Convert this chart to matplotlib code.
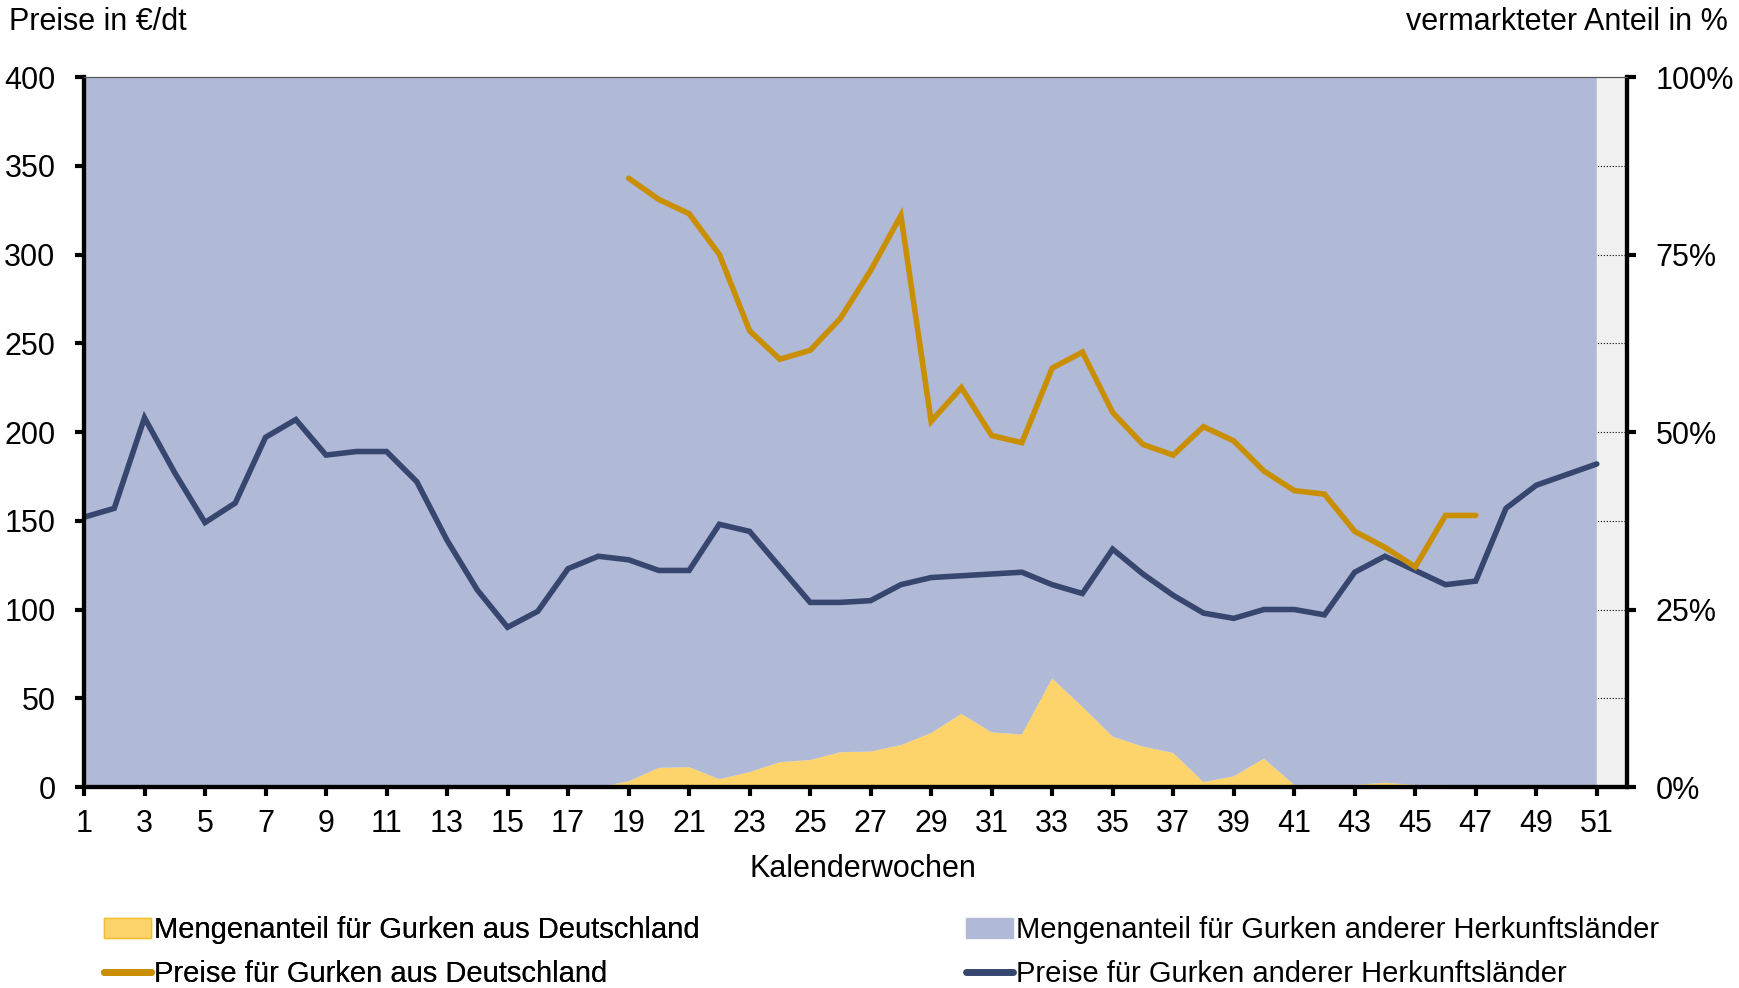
import matplotlib
matplotlib.use("Agg")
import matplotlib.pyplot as plt
from matplotlib.patches import Patch
from matplotlib.lines import Line2D
import numpy as np

plt.rcParams['font.family'] = ['Liberation Sans', 'DejaVu Sans']

# Kalenderwochen 1..51
weeks = list(range(1, 52))

# Preise fuer Gurken anderer Herkunftslaender (EUR/dt)
price_other = [152, 157, 208, 177, 149, 160, 197, 207, 187, 189,
               189, 172, 139, 111, 90, 99, 123, 130, 128, 122,
               122, 148, 144, 124, 104, 104, 105, 114, 118, 119,
               120, 121, 114, 109, 134, 120, 108, 98, 95, 100,
               100, 97, 121, 130, 122, 114, 116, 157, 170, 176,
               182]

# Preise fuer Gurken aus Deutschland (KW 19..47)
weeks_de = list(range(19, 48))
price_de = [343, 331, 323, 300, 257, 241, 246, 264, 291, 322,
            206, 225, 198, 194, 236, 245, 211, 193, 187, 203,
            195, 178, 167, 165, 144, 135, 124, 153, 153]

# Mengenanteil Deutschland in % (KW 1..51)
share_de = [0] * 17 + [0, 0.8, 2.7, 2.8, 1.1, 2.1, 3.5, 3.8, 4.9,
                       5.0, 5.9, 7.6, 10.3, 7.7, 7.4, 15.3, 11.3, 7.1, 5.7,
                       4.8, 0.7, 1.5, 4.0, 0.3, 0.3, 0.3, 0.6, 0.3, 0.3,
                       0.2, 0, 0, 0, 0]
share_other = [100 - s for s in share_de]

c_yellow = '#fdd36b'
c_blue_area = '#b0b9d6'
c_orange = '#c98f00'
c_navy = '#36466e'

fs = 22

fig = plt.figure(figsize=(17.39, 9.88), dpi=100)
ax = fig.add_axes([84 / 1739, 201 / 988, 1543 / 1739, 710 / 988])
ax2 = ax.twinx()

# areas on the percent axis, behind the price lines
ax2.patch.set_visible(True)
ax2.set_facecolor('#f0f0f0')
ax2.stackplot(weeks, share_de, share_other, colors=[c_yellow, c_blue_area],
              linewidth=0, zorder=2)
ax2.set_ylim(0, 100)
ax2.set_yticks([0, 25, 50, 75, 100])
ax2.set_yticklabels(['0%', '25%', '50%', '75%', '100%'])
ax2.set_yticks(np.arange(0, 101, 12.5), minor=True)
ax2.grid(True, axis='y', which='both', linestyle=':', color='black', linewidth=0.8)
ax2.set_axisbelow(True)
ax2.tick_params(axis='y', which='major', direction='out', length=6.5, width=3,
                labelsize=fs, pad=14)
ax2.tick_params(axis='y', which='minor', length=0)

ax.set_zorder(ax2.get_zorder() + 1)
ax.patch.set_visible(False)

ax.plot(weeks, price_other, color=c_navy, linewidth=4, solid_capstyle='round',
        solid_joinstyle='miter')
ax.plot(weeks_de, price_de, color=c_orange, linewidth=4, solid_capstyle='round',
        solid_joinstyle='miter')

ax.set_xlim(1, 52)
ax.set_ylim(0, 400)
ax.set_yticks(range(0, 401, 50))
ax.set_xticks(range(1, 52, 2))
ax.tick_params(axis='both', direction='out', length=6.5, width=3, labelsize=fs)
ax.tick_params(axis='y', pad=14)
ax.tick_params(axis='x', pad=9)
ax.set_xlabel('Kalenderwochen', fontsize=fs)
ax.xaxis.set_label_coords(0.505, -0.095)

for a in (ax, ax2):
    for side in ('left', 'right', 'bottom'):
        a.spines[side].set_linewidth(3)
        a.spines[side].set_color('black')
    a.spines['top'].set_linewidth(0.8)
    a.spines['top'].set_color('#555555')

fig.text(9 / 1739, 1 - 22 / 988, 'Preise in €/dt', fontsize=fs, va='center', ha='left')
fig.text(1728 / 1739, 1 - 22 / 988, 'vermarkteter Anteil in %', fontsize=fs,
         va='center', ha='right')

h_left = [Patch(facecolor=c_yellow, edgecolor='#f0c030'),
          Line2D([], [], color=c_orange, linewidth=5, solid_capstyle='round')]
h_right = [Patch(facecolor=c_blue_area, edgecolor=c_blue_area),
           Line2D([], [], color=c_navy, linewidth=5, solid_capstyle='round')]
lab_left = ['Mengenanteil für Gurken aus Deutschland', 'Preise für Gurken aus Deutschland']
lab_right = ['Mengenanteil für Gurken anderer Herkunftsländer',
             'Preise für Gurken anderer Herkunftsländer']

leg_kw = dict(frameon=False, fontsize=21, handlelength=1.6, handleheight=0.7,
              handletextpad=0.1, labelspacing=0.55, borderpad=0, borderaxespad=0)
leg1 = fig.legend(h_left, lab_left, loc='upper left',
                  bbox_to_anchor=(104 / 1739, 1 - 916 / 988), **leg_kw)
fig.add_artist(leg1)
fig.legend(h_right, lab_right, loc='upper left',
           bbox_to_anchor=(966 / 1739, 1 - 916 / 988), **leg_kw)

fig.savefig('out.png', dpi=100)
